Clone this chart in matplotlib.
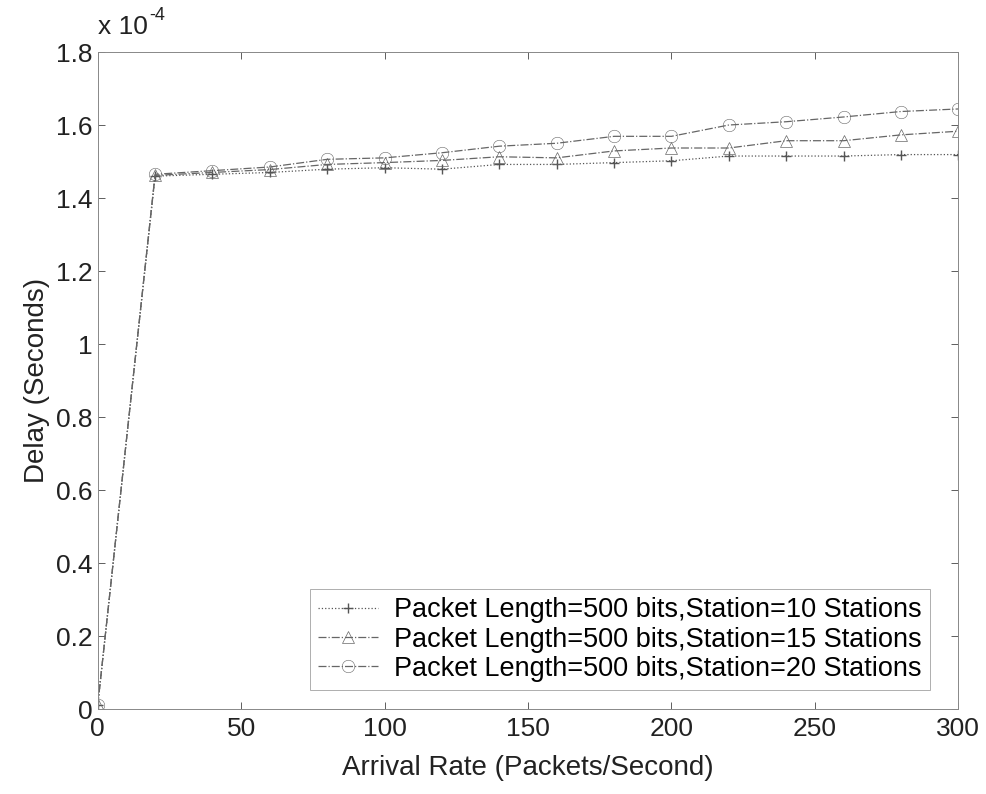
import matplotlib.pyplot as plt
from matplotlib.ticker import FuncFormatter

plt.rcParams['font.family'] = ['Liberation Sans', 'DejaVu Sans']

# ========== data (delay in units of 1e-4 s) ==========
rate = [0, 20, 40, 60, 80, 100, 120, 140, 160, 180, 200, 220, 240, 260, 280, 300]
delay_10 = [0.01, 1.460, 1.465, 1.470, 1.479, 1.483, 1.479, 1.492, 1.492, 1.497,
            1.502, 1.515, 1.515, 1.515, 1.519, 1.519]
delay_15 = [0.01, 1.462, 1.470, 1.478, 1.492, 1.497, 1.503, 1.513, 1.510, 1.529,
            1.537, 1.537, 1.557, 1.557, 1.573, 1.583]
delay_20 = [0.01, 1.465, 1.475, 1.485, 1.506, 1.510, 1.524, 1.542, 1.550, 1.569,
            1.569, 1.600, 1.609, 1.622, 1.637, 1.644]
labels = ["Packet Length=500 bits,Station=10 Stations",
          "Packet Length=500 bits,Station=15 Stations",
          "Packet Length=500 bits,Station=20 Stations"]
# =====================================================

fig = plt.figure(figsize=(9.87, 7.94), dpi=100)
ax = fig.add_axes([0.099, 0.107, 0.872, 0.8275])

ax.plot(rate, delay_10, linestyle=':', color='#555555', linewidth=0.9,
        marker='+', markersize=7, label=labels[0])
ax.plot(rate, delay_15, linestyle='-.', color='#666666', linewidth=0.9,
        marker='^', markersize=9, markerfacecolor='none', markeredgewidth=0.5, label=labels[1])
ax.plot(rate, delay_20, linestyle='-.', color='#666666', linewidth=0.9,
        marker='o', markersize=9, markerfacecolor='none', markeredgewidth=0.4, label=labels[2])

ax.set_xlim(0, 300)
ax.set_ylim(0, 1.8)
ax.set_xticks(range(0, 301, 50))
ax.set_yticks([i * 0.2 for i in range(10)])
ax.yaxis.set_major_formatter(FuncFormatter(lambda v, p: '%g' % round(v, 2)))
ax.tick_params(direction='in', top=True, right=True, labelsize=19, length=5, width=0.6,
               colors='#444444', labelcolor='#222222', pad=4)
ax.tick_params(axis='x', pad=6)
for s in ax.spines.values():
    s.set_color('#888888')
    s.set_linewidth(0.7)

ax.set_xlabel("Arrival Rate (Packets/Second)", fontsize=20, color='#222222', labelpad=10)
ax.set_ylabel("Delay (Seconds)", fontsize=20, color='#222222', labelpad=4)

# MATLAB style exponent label above the y axis
ax.annotate("x 10", xy=(0, 1), xycoords='axes fraction', xytext=(0, 13),
            textcoords='offset points', fontsize=19, color='#222222', ha='left', va='baseline')
ax.annotate("-4", xy=(0, 1), xycoords='axes fraction', xytext=(37, 23),
            textcoords='offset points', fontsize=13, color='#222222', ha='left', va='baseline')

leg = ax.legend(loc='lower right', bbox_to_anchor=(0.967, 0.029), fontsize=19.5,
                frameon=True, fancybox=False, handlelength=2.2, handletextpad=0.6,
                borderpad=0.3, labelspacing=0.12, borderaxespad=0.0)
leg.get_frame().set_edgecolor('#999999')
leg.get_frame().set_linewidth(0.7)

fig.savefig("out.png", dpi=100)
